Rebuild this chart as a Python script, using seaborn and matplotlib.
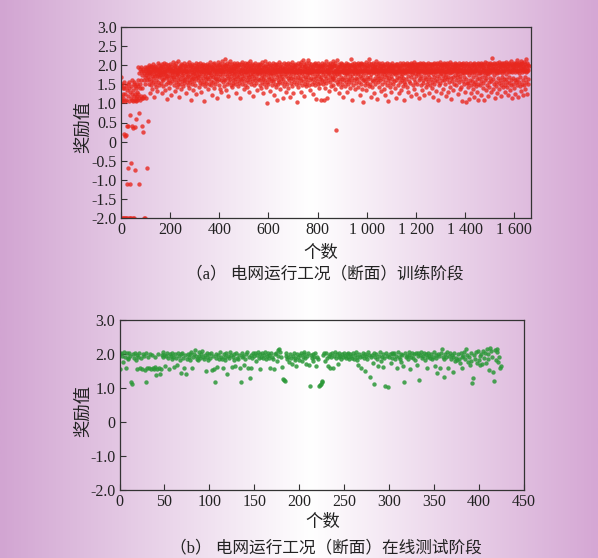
import numpy as np
import pandas as pd
import matplotlib
matplotlib.use("Agg")
import matplotlib.pyplot as plt
import seaborn as sns
from matplotlib.colors import LinearSegmentedColormap
from matplotlib.ticker import FuncFormatter

# reward values in hundredths, x is the episode index
# (a) training: first 110 episodes (warm-up)
train_warmup = [
    170, 120, 145, 110, -200, 150, 105, 140, 125, -200,
    115, 140, 20, -200, 155, 15, -200, 125, 105, 18,
    145, -200, 110, 40, -110, 135, -200, 150, -70, 120,
    42, 140, -200, 105, 155, -110, 70, 130, -200, -55,
    115, 145, -200, 40, 125, 160, 110, -200, 135, 105,
    35, 150, -200, 120, 155, 110, 38, -75, 145, 125,
    60, 105, 140, 115, 130, 150, 120, 110, 160, 145,
    125, 195, 75, -110, 115, 180, 140, 190, 110, 150,
    185, 120, 160, 195, 115, 175, 40, 140, 25, 185,
    115, 190, -200, 160, 180, 120, 195, -200, 170, 150,
    185, 190, 115, 175, -70, 195, 160, 180, 55, 190,
]

# (a) training: episodes 110..1659
train_reward = [
    186, 168, 194, 152, 180, 201, 163, 177, 128, 191, 183, 158, 198, 147, 185, 172, 196, 138, 181, 190,
    166, 203, 155, 188, 176, 118, 193, 171, 184, 150, 199, 179, 161, 195, 143, 187, 173, 190, 132, 205,
    178, 157, 189, 169, 200, 182, 149, 192, 174, 186,
    181, 197, 154, 175, 192, 186, 126, 202, 165, 183, 146, 194, 178, 160, 207, 170, 185, 191, 135, 176,
    199, 184, 151, 180, 167, 203, 188, 112, 193, 173, 156, 189, 200, 171, 141, 184, 196, 162, 190, 153,
    179, 204, 168, 187, 121, 197, 182, 159, 188, 174,
    193, 170, 208, 185, 148, 181, 201, 164, 190, 133, 178, 198, 157, 187, 169, 205, 183, 144, 195, 176,
    161, 188, 210, 152, 180, 192, 117, 185, 172, 199, 150, 189, 163, 202, 182, 137, 194, 175, 158, 186,
    200, 168, 145, 190, 179, 206, 160, 187, 153, 197,
    184, 164, 199, 177, 128, 192, 186, 155, 203, 170, 182, 147, 197, 188, 173, 209, 161, 185, 140, 194,
    178, 201, 156, 187, 168, 110, 198, 183, 163, 190, 151, 204, 176, 166, 195, 135, 185, 180, 159, 200,
    172, 189, 149, 193, 167, 207, 182, 124, 188, 196,
    175, 197, 160, 185, 202, 168, 143, 190, 178, 194, 153, 171, 206, 186, 131, 198, 181, 162, 192, 184,
    150, 201, 176, 167, 189, 204, 157, 183, 195, 106, 173, 188, 200, 145, 180, 165, 192, 184, 154, 203,
    187, 169, 197, 137, 179, 190, 163, 201, 182, 151,
    194, 180, 209, 168, 187, 148, 199, 175, 159, 190, 196, 122, 184, 170, 203, 156, 192, 178, 186, 141,
    205, 166, 188, 195, 152, 177, 201, 163, 187, 115, 197, 181, 158, 191, 171, 208, 184, 149, 190, 200,
    164, 186, 139, 196, 176, 204, 160, 188, 183, 130,
    187, 199, 171, 212, 181, 155, 194, 185, 165, 203, 145, 190, 177, 200, 162, 215, 184, 192, 134, 197,
    173, 188, 151, 206, 182, 167, 198, 120, 189, 178, 202, 157, 192, 184, 164, 210, 148, 186, 195, 172,
    204, 142, 187, 180, 161, 199, 190, 154, 178, 207,
    170, 193, 184, 150, 201, 180, 163, 189, 198, 128, 185, 173, 207, 158, 195, 183, 168, 146, 200, 188,
    176, 204, 153, 184, 165, 194, 113, 188, 179, 202, 161, 190, 172, 208, 152, 182, 197, 167, 187, 139,
    201, 177, 159, 192, 185, 205, 148, 181, 170, 196,
    181, 162, 202, 188, 143, 194, 175, 186, 156, 205, 184, 168, 197, 130, 189, 178, 210, 164, 187, 193,
    151, 200, 173, 183, 159, 204, 186, 119, 196, 177, 166, 190, 201, 147, 181, 188, 161, 206, 184, 153,
    194, 171, 199, 136, 186, 179, 203, 165, 190, 183,
    200, 177, 160, 193, 187, 149, 204, 181, 167, 196, 140, 185, 174, 208, 157, 190, 183, 164, 201, 126,
    188, 195, 152, 181, 172, 211, 162, 186, 197, 144, 178, 192, 183, 155, 203, 101, 187, 170, 199, 150,
    190, 179, 163, 205, 184, 133, 195, 176, 188, 158,
    183, 201, 167, 190, 148, 197, 179, 187, 158, 206, 174, 123, 193, 185, 163, 203, 152, 183, 196, 176,
    143, 200, 188, 168, 190, 110, 181, 204, 160, 187, 194, 150, 184, 171, 209, 155, 192, 181, 137, 199,
    177, 188, 165, 202, 154, 185, 173, 196, 114, 190,
    187, 164, 205, 181, 146, 193, 184, 199, 156, 178, 188, 129, 202, 171, 186, 195, 151, 183, 206, 166,
    190, 140, 197, 180, 160, 187, 203, 116, 184, 173, 196, 153, 188, 181, 167, 208, 145, 192, 185, 163,
    200, 176, 127, 189, 197, 157, 183, 204, 170, 186,
    196, 179, 151, 201, 184, 162, 190, 103, 181, 205, 168, 187, 142, 197, 176, 188, 154, 203, 183, 167,
    192, 131, 186, 208, 160, 180, 199, 148, 188, 172, 185, 213, 158, 194, 181, 120, 202, 170, 190, 152,
    186, 197, 164, 206, 183, 145, 192, 178, 187, 156,
    214, 183, 168, 197, 149, 188, 180, 205, 160, 186, 195, 136, 181, 203, 166, 190, 152, 184, 176, 199,
    125, 187, 196, 163, 204, 182, 155, 186, 171, 207, 147, 192, 184, 167, 201, 112, 188, 178, 198, 158,
    183, 205, 151, 187, 173, 195, 141, 185, 199, 165,
    188, 201, 154, 181, 194, 170, 108, 199, 184, 162, 205, 150, 187, 177, 196, 110, 183, 203, 158, 190,
    173, 141, 200, 185, 166, 211, 153, 181, 195, 115, 188, 176, 203, 161, 184, 198, 133, 190, 180, 168,
    206, 156, 187, 199, 145, 183, 194, 171, 202, 164,
    195, 181, 210, 166, 188, 148, 201, 180, 160, 197, 185, 138, 205, 172, 187, 30, 183, 199, 155, 190,
    178, 213, 164, 186, 150, 196, 176, 203, 127, 184, 194, 158, 199, 181, 168, 207, 144, 188, 185, 164,
    204, 152, 183, 195, 118, 187, 200, 161, 180, 193,
    170, 197, 184, 146, 205, 180, 188, 157, 200, 176, 130, 193, 185, 165, 203, 151, 183, 196, 162, 190,
    181, 141, 201, 187, 171, 216, 155, 186, 198, 109, 178, 204, 167, 188, 194, 149, 184, 199, 160, 181,
    207, 137, 190, 176, 196, 166, 202, 153, 187, 183,
    197, 163, 186, 205, 144, 188, 178, 201, 157, 183, 194, 121, 203, 171, 187, 152, 197, 184, 166, 206,
    139, 190, 181, 202, 160, 186, 174, 104, 199, 188, 164, 204, 148, 184, 195, 158, 187, 179, 209, 134,
    192, 170, 200, 154, 186, 198, 163, 183, 145, 205,
    215, 182, 168, 196, 152, 188, 184, 117, 202, 176, 162, 199, 187, 142, 193, 181, 205, 158, 186, 195,
    128, 183, 203, 167, 190, 150, 197, 178, 187, 211, 161, 184, 196, 112, 188, 173, 202, 155, 181, 193,
    166, 205, 143, 187, 179, 199, 160, 186, 191, 132,
    198, 172, 188, 151, 206, 183, 193, 163, 201, 138, 184, 177, 197, 157, 188, 203, 123, 181, 195, 168,
    187, 147, 205, 186, 175, 199, 160, 190, 107, 184, 196, 166, 204, 143, 186, 180, 193, 154, 201, 173,
    188, 131, 197, 184, 164, 207, 152, 187, 182, 195,
    179, 201, 158, 190, 185, 141, 197, 176, 204, 162, 186, 115, 195, 183, 169, 203, 149, 188, 180, 199,
    126, 193, 187, 167, 206, 155, 184, 196, 173, 136, 201, 181, 188, 161, 197, 178, 146, 187, 205, 166,
    190, 110, 183, 200, 156, 188, 179, 203, 150, 186,
    197, 187, 165, 205, 183, 144, 193, 201, 172, 188, 129, 199, 184, 159, 204, 190, 181, 153, 196, 207,
    168, 186, 119, 200, 192, 178, 203, 147, 188, 183, 198, 163, 209, 187, 139, 195, 180, 202, 157, 190,
    199, 171, 125, 204, 186, 193, 150, 182, 203, 188,
    177, 200, 160, 192, 186, 113, 205, 181, 167, 197, 149, 188, 202, 172, 185, 136, 198, 190, 162, 207,
    154, 186, 195, 180, 203, 122, 188, 183, 168, 199, 143, 192, 204, 165, 187, 181, 152, 201, 178, 190,
    159, 206, 128, 186, 197, 170, 202, 148, 183, 193,
    188, 164, 204, 181, 141, 196, 186, 200, 155, 190, 176, 117, 202, 184, 168, 207, 151, 188, 197, 162,
    183, 203, 133, 192, 181, 187, 158, 205, 171, 186, 108, 198, 190, 166, 202, 147, 184, 195, 178, 209,
    153, 187, 200, 126, 180, 192, 161, 203, 186, 172,
    201, 139, 188, 182, 206, 160, 195, 181, 168, 203, 150, 186, 197, 119, 190, 177, 205, 164, 184, 199,
    130, 188, 202, 170, 193, 155, 183, 187, 208, 144, 198, 180, 166, 204, 112, 190, 184, 196, 158, 181,
    202, 168, 188, 136, 199, 192, 152, 186, 205, 175,
    189, 198, 161, 184, 204, 147, 193, 181, 168, 201, 124, 187, 197, 177, 206, 156, 186, 191, 138, 200,
    173, 188, 164, 203, 144, 184, 195, 180, 105, 202, 187, 158, 193, 183, 205, 150, 179, 198, 170, 188,
    131, 201, 186, 163, 207, 103, 190, 182, 153, 197,
    181, 203, 154, 188, 143, 199, 174, 192, 112, 186, 205, 162, 183, 148, 196, 187, 126, 201, 179, 158,
    190, 204, 137, 184, 169, 198, 151, 206, 181, 118, 188, 195, 156, 186, 145, 202, 175, 190, 130, 199,
    184, 164, 205, 152, 187, 109, 196, 180, 167, 203,
    186, 147, 198, 179, 207, 158, 190, 123, 201, 183, 168, 204, 140, 187, 195, 153, 181, 202, 110, 192,
    174, 185, 161, 209, 134, 188, 199, 166, 186, 149, 205, 180, 190, 120, 197, 177, 203, 156, 185, 196,
    143, 188, 167, 206, 182, 129, 200, 187, 159, 193,
    203, 181, 220, 163, 189, 139, 199, 185, 150, 206, 174, 192, 113, 187, 202, 157, 183, 197, 146, 205,
    179, 188, 127, 201, 167, 193, 186, 153, 208, 181, 137, 198, 190, 161, 203, 148, 184, 196, 119, 202,
    180, 169, 206, 155, 188, 199, 142, 185, 197, 164,
    205, 184, 149, 196, 187, 130, 202, 177, 165, 209, 156, 189, 199, 144, 186, 204, 121, 192, 181, 169,
    206, 153, 188, 201, 136, 197, 184, 160, 211, 147, 190, 182, 115, 203, 194, 167, 200, 151, 187, 206,
    140, 192, 183, 161, 202, 125, 197, 188, 155, 205,
    185, 214, 163, 198, 148, 189, 203, 118, 184, 200, 157, 206, 179, 145, 197, 188, 168, 211, 133, 192,
    202, 152, 187, 181, 205, 122, 199, 190, 162, 208, 147, 186, 196, 170, 203, 139, 188, 183, 216, 155,
    198, 186, 124, 205, 191, 165, 201, 150, 187, 197,
]

# (b) online test: episodes 0..425
test_reward = [
    155, 200, 203, 193, 176, 205, 191, 160, 202, 188, 184, 204, 195, 118, 113, 200, 189, 202, 181, 197,
    157, 192, 203, 158, 187, 155, 201, 194, 152, 204, 117, 158, 190, 160, 200, 156, 196, 158, 155, 191,
    161, 139, 157, 201, 160, 140, 156, 198, 190, 205,
    198, 165, 193, 204, 187, 157, 201, 194, 186, 203, 190, 162, 200, 188, 167, 202, 195, 183, 145, 199,
    204, 189, 160, 196, 142, 186, 201, 192, 182, 199, 206, 160, 190, 201, 213, 195, 186, 181, 205, 193,
    187, 200, 209, 191, 184, 197, 150, 192, 203, 183,
    199, 188, 203, 154, 194, 157, 117, 201, 189, 161, 196, 184, 205, 192, 186, 159, 200, 181, 190, 203,
    140, 195, 187, 206, 198, 162, 191, 183, 200, 165, 204, 189, 185, 197, 160, 118, 190, 202, 193, 167,
    186, 200, 206, 158, 191, 128, 197, 160, 188, 202,
    193, 203, 180, 196, 206, 188, 201, 157, 192, 203, 189, 197, 207, 184, 193, 202, 188, 196, 160, 204,
    191, 186, 155, 200, 203, 178, 213, 195, 214, 206, 190, 162, 126, 123, 121, 194, 203, 184, 191, 176,
    201, 189, 172, 195, 204, 183, 188, 165, 200, 190,
    183, 196, 202, 178, 190, 201, 207, 187, 170, 194, 203, 168, 105, 197, 188, 201, 178, 191, 203, 165,
    192, 184, 105, 108, 112, 118, 120, 196, 202, 179, 204, 189, 165, 195, 201, 160, 190, 203, 158, 193,
    205, 187, 200, 170, 192, 203, 195, 184, 201, 190,
    203, 194, 188, 201, 191, 204, 186, 200, 193, 189, 202, 184, 196, 205, 190, 181, 168, 201, 192, 160,
    195, 203, 188, 150, 200, 193, 186, 205, 197, 133, 190, 196, 175, 203, 113, 191, 201, 186, 166, 195,
    205, 178, 191, 201, 163, 189, 107, 203, 194, 104,
    192, 200, 174, 204, 189, 201, 203, 184, 195, 160, 205, 191, 186, 201, 177, 196, 164, 118, 203, 190,
    195, 185, 205, 198, 156, 192, 203, 188, 201, 183, 204, 169, 193, 202, 125, 196, 206, 187, 193, 203,
    182, 200, 190, 160, 203, 194, 187, 201, 186, 192,
    205, 164, 196, 187, 145, 201, 193, 158, 204, 215, 191, 186, 132, 200, 190, 206, 160, 194, 203, 185,
    196, 148, 190, 202, 178, 188, 181, 200, 186, 173, 203, 192, 158, 195, 206, 184, 214, 198, 176, 190,
    168, 203, 178, 116, 130, 196, 186, 205, 174, 208,
    183, 193, 167, 201, 170, 210, 188, 204, 173, 214, 186, 200, 153, 219, 208, 192, 146, 120, 212, 181,
    205, 215, 176, 192, 158, 166,
]

train_xticks = [0, 200, 400, 600, 800, 1000, 1200, 1400, 1600]
train_yticks = [-2.0, -1.5, -1.0, -0.5, 0.0, 0.5, 1.0, 1.5, 2.0, 2.5, 3.0]
test_xticks = [0, 50, 100, 150, 200, 250, 300, 350, 400, 450]
test_yticks = [-2.0, -1.0, 0.0, 1.0, 2.0, 3.0]

caption_a = "（a） 电网运行工况（断面）训练阶段"
caption_b = "（b） 电网运行工况（断面）在线测试阶段"

sns.set_theme(style="ticks")
plt.rcParams["font.family"] = ["Liberation Serif", "Noto Sans CJK SC"]
plt.rcParams["axes.unicode_minus"] = False

CJK = ["Noto Sans CJK SC", "DejaVu Sans"]
MIX = ["Liberation Serif", "Noto Sans CJK SC"]


def y_fmt(v, pos):
    return "0" if abs(v) < 1e-9 else f"{v:.1f}"


def x_fmt(v, pos):
    return f"{int(round(v)):,}".replace(",", " ")


def style_axes(ax, xticks, yticks, xmax):
    ax.set_facecolor("none")
    ax.set_xlim(0, xmax)
    ax.set_ylim(-2.0, 3.0)
    ax.set_xticks(xticks)
    ax.set_yticks(yticks)
    ax.xaxis.set_major_formatter(FuncFormatter(x_fmt))
    ax.yaxis.set_major_formatter(FuncFormatter(y_fmt))
    ax.tick_params(direction="in", length=4, width=0.8, colors="#333333",
                   labelsize=11.5, labelcolor="#222222", pad=3)
    for s in ax.spines.values():
        s.set_color("#333333")
        s.set_linewidth(0.9)
    ax.set_xlabel("")
    ax.set_ylabel("")


fig = plt.figure(figsize=(5.98, 5.58), dpi=100)

# purple -> white -> purple background
bg = fig.add_axes([0, 0, 1, 1], zorder=-1)
bg_cmap = LinearSegmentedColormap.from_list(
    "bg", [(0.0, "#d2a5d2"), (0.52, "#ffffff"), (1.0, "#d5a7d4")])
bg.imshow(np.linspace(0, 1, 512)[None, :], aspect="auto", cmap=bg_cmap,
          extent=[0, 1, 0, 1])
bg.axis("off")

# (a) training
train_all = np.array(train_warmup + train_reward) / 100
df_train = pd.DataFrame({"step": np.arange(len(train_all)), "reward": train_all})
ax1 = fig.add_axes([121 / 598, 1 - 218 / 558, 410 / 598, 191 / 558])
sns.scatterplot(data=df_train, x="step", y="reward", ax=ax1, color="#e8281f",
                s=10, linewidth=0, alpha=0.8)
style_axes(ax1, train_xticks, train_yticks, 1669)

# (b) online test
test_all = np.array(test_reward) / 100
df_test = pd.DataFrame({"step": np.arange(len(test_all)), "reward": test_all})
ax2 = fig.add_axes([119.5 / 598, 1 - 490 / 558, 404 / 598, 170 / 558])
sns.scatterplot(data=df_test, x="step", y="reward", ax=ax2, color="#2b9838",
                s=10, linewidth=0, alpha=0.85)
style_axes(ax2, test_xticks, test_yticks, 450)


# labels / captions placed in figure pixels
def ftext(x, y, s, family, size, **kw):
    fig.text(x / 598, 1 - y / 558, s, family=family, fontsize=size,
             color="#222222", ha="center", va="center", **kw)


ftext(83, 127, "奖励值", CJK, 12.5, rotation=90)
ftext(321, 253, "个数", CJK, 12.5)
ftext(325, 274, caption_a, MIX, 12)

ftext(83, 411, "奖励值", CJK, 12.5, rotation=90)
ftext(323, 522, "个数", CJK, 12.5)
ftext(326, 548, caption_b, MIX, 12)

fig.savefig("out.png", dpi=100)
